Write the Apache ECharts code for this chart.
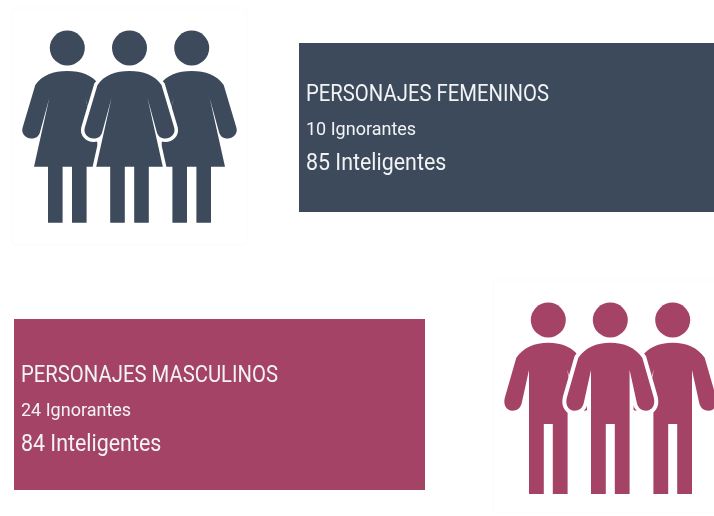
<!DOCTYPE html>
<html>
<head>
<meta charset="utf-8">
<style>
  html, body { margin: 0; padding: 0; background: #fff; }
  #chart { width: 714px; height: 516px; }
</style>
<script src="https://cdn.jsdelivr.net/npm/echarts@6/dist/echarts.min.js"></script>
</head>
<body>
<div id="chart"></div>
<script>
// data
const categories = ['PERSONAJES FEMENINOS', 'PERSONAJES MASCULINOS'];
const ignorantes = [10, 24];
const inteligentes = [85, 84];
const ignorantesLabel = 'Ignorantes';
const inteligentesLabel = 'Inteligentes';

// layout, one entry per category
const colors = ['#3c4a5c', '#a54366'];
const panels = [
  { x: 299, y: 43, w: 415, h: 169, textX: 306, lines: [95, 130, 164] },
  { x: 14, y: 319, w: 411, h: 171, textX: 21, lines: [376.5, 411, 445.5] }
];
const iconBoxes = [
  { x: 12, y: 8, w: 235, h: 237 },
  { x: 493, y: 280, w: 230, h: 233 }
];
const figures = [
  { centers: [67.3, 129.5, 191.7], headY: 48, bodyY: 71, halo: 7 },
  { centers: [548.3, 610.3, 672.7], headY: 320, bodyY: 342.7, halo: 8 }
];

const womanPath = 'M0 0C-14 0-25 4-32 14L-44.8 57C-46.3 63-41 67.5-36 67.5C-31 67.5-28 65-27 60L-18 27L-33.3 95.7L-19.3 95.7L-19.3 151.7L-4.7 151.7L-4.7 95.7'
  + 'L4.7 95.7L4.7 151.7L19.3 151.7L19.3 95.7L33.3 95.7L18 27L27 60C28 65 31 67.5 36 67.5C41 67.5 46.3 63 44.8 57L32 14C25 4 14 0 0 0Z';
const manPath = 'M0 0C-14 0-25 5-32 15L-43.5 55C-45.5 63-41 68-36 68C-31 68-27.5 65-26.5 60L-19.3 27.3L-19.3 151.3L-4.5 151.3L-4.5 81.3'
  + 'L4.5 81.3L4.5 151.3L19.3 151.3L19.3 27.3L26.5 60C27.5 65 31 68 36 68C41 68 45.5 63 43.5 55L32 15C25 5 14 0 0 0Z';
const bodyPaths = [womanPath, manPath];
// closes the notch under the arm on the side that goes behind the middle figure
const notchPaths = ['M17 26L28 60L33 90L17 90Z', 'M18 26L28 60L19.3 70Z'];

const textStyles = [
  { font: '400 23px Roboto', scale: 0.882 },
  { font: '400 18px Roboto', scale: 1.0 },
  { font: '400 23px Roboto', scale: 0.93 }
];

function person(cx, fig, i, side) {
  const color = colors[i];
  const path = bodyPaths[i];
  const body = [];
  if (side === 0) {
    body.push({ type: 'path', shape: { pathData: path }, style: { fill: '#fff', stroke: '#fff', lineWidth: fig.halo, lineJoin: 'round' } });
  } else {
    body.push({ type: 'group', scaleX: side, children: [
      { type: 'path', shape: { pathData: notchPaths[i] }, style: { fill: color } }
    ] });
  }
  body.push({ type: 'path', shape: { pathData: path }, style: { fill: color } });
  return [
    { type: 'circle', shape: { cx: cx, cy: fig.headY, r: 17.5 }, style: { fill: color } },
    { type: 'group', x: cx, y: fig.bodyY, children: body }
  ];
}

function label(text, x, y, st) {
  return {
    type: 'text', x: x, y: y, scaleX: st.scale,
    style: { text: text, x: 0, y: 0, fill: '#f1f3f5', font: st.font, verticalAlign: 'middle' }
  };
}

function renderItem(params, api) {
  const i = api.value(0);
  const p = panels[i];
  const box = iconBoxes[i];
  const fig = figures[i];
  const people = person(fig.centers[0], fig, i, 1)
    .concat(person(fig.centers[2], fig, i, -1))
    .concat(person(fig.centers[1], fig, i, 0));
  return {
    type: 'group',
    children: [
      { type: 'rect', shape: { x: box.x, y: box.y, width: box.w, height: box.h, r: 4 }, style: { fill: '#fff', stroke: '#fbfbfb', lineWidth: 1 } },
      { type: 'rect', shape: { x: p.x, y: p.y, width: p.w, height: p.h }, style: { fill: colors[i] } },
      label(categories[i], p.textX, p.lines[0], textStyles[0]),
      label(api.value(1) + ' ' + ignorantesLabel, p.textX, p.lines[1], textStyles[1]),
      label(api.value(2) + ' ' + inteligentesLabel, p.textX, p.lines[2], textStyles[2])
    ].concat(people)
  };
}

const myChart = echarts.init(document.getElementById('chart'));
myChart.setOption({
  animation: false,
  backgroundColor: '#fff',
  series: [
    {
      type: 'custom',
      coordinateSystem: 'none',
      silent: true,
      clip: false,
      renderItem: renderItem,
      data: categories.map(function (c, i) { return [i, ignorantes[i], inteligentes[i]]; })
    }
  ]
});
</script>
</body>
</html>
